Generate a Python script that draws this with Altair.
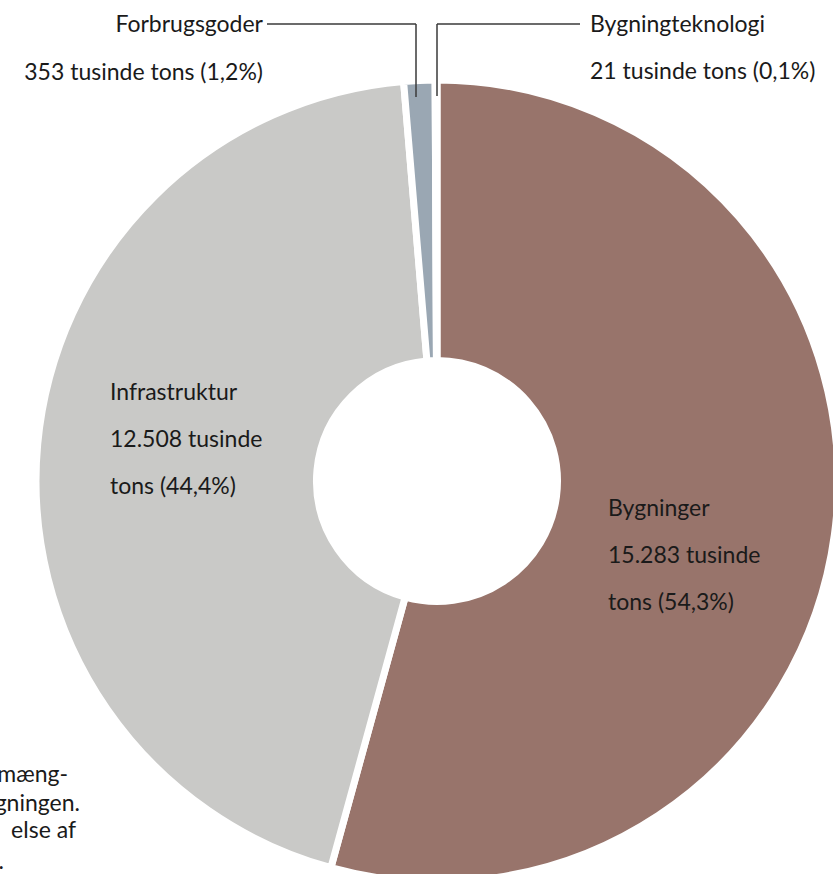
import altair as alt
import pandas as pd

# Data
categories = ["Bygninger", "Infrastruktur", "Forbrugsgoder", "Bygningteknologi"]
values_kt = [15283, 12508, 353, 21]          # tusinde tons
percents = [54.3, 44.4, 1.2, 0.1]
colors = ["#98746b", "#c9c9c7", "#9aa7b3", "#9aa7b3"]
footnote_fragments = ["mæng-", "gningen.", "else af", "."]


def dk_int(v):
    return f"{v:,}".replace(",", ".")


def dk_pct(p):
    return f"{p:.1f}".replace(".", ",") + "%"


df = pd.DataFrame({
    "kategori": categories,
    "vaerdi": values_kt,
    "idx": list(range(len(categories))),
})

W, H = 833, 874
CX, CY = 437, 481
FONT = "Lato"
FS = 23
TXT = "#1a1a1a"

donut = alt.Chart(df).mark_arc(
    outerRadius=401, innerRadius=120.5, stroke="white", strokeWidth=7
).encode(
    theta=alt.Theta("vaerdi:Q", stack=True),
    color=alt.Color("kategori:N", scale=alt.Scale(domain=categories, range=colors), legend=None),
    order=alt.Order("idx:Q"),
    x=alt.value(CX),
    y=alt.value(CY),
)

one = pd.DataFrame({"a": [0]})


def text_layer(txt, x, y, align="left", line_height=47):
    return alt.Chart(one).mark_text(
        font=FONT, fontSize=FS, color=TXT, align=align, baseline="alphabetic",
        lineBreak="\n", lineHeight=line_height,
    ).encode(x=alt.value(x), y=alt.value(y), text=alt.value(txt))


def rule(x, x2, y, y2):
    return alt.Chart(one).mark_rule(color="#3a3a3a", strokeWidth=1.5).encode(
        x=alt.value(x), x2=alt.value(x2), y=alt.value(y), y2=alt.value(y2)
    )


lab_byg = f"{categories[0]}\n{dk_int(values_kt[0])} tusinde\ntons ({dk_pct(percents[0])})"
lab_inf = f"{categories[1]}\n{dk_int(values_kt[1])} tusinde\ntons ({dk_pct(percents[1])})"
lab_for1 = categories[2]
lab_for2 = f"{dk_int(values_kt[2])} tusinde tons ({dk_pct(percents[2])})"
lab_bt = f"{categories[3]}\n{dk_int(values_kt[3])} tusinde tons ({dk_pct(percents[3])})"

layers = [
    donut,
    text_layer(lab_byg, 608, 516),
    text_layer(lab_inf, 110, 400),
    text_layer(lab_for1, 263, 32, align="right"),
    text_layer(lab_for2, 263, 80, align="right"),
    text_layer(lab_bt, 590, 32),
    rule(267, 416, 24, 24),
    rule(416, 416, 24, 97),
    rule(437, 580, 24, 24),
    rule(437, 437, 24, 96),
]

frag_ends = [68, 80, 76, 4]
frag_base = [782, 811, 838, 869]
for t, xe, yb in zip(footnote_fragments, frag_ends, frag_base):
    layers.append(text_layer(t, xe, yb, align="right"))

chart = alt.layer(*layers).properties(
    width=W, height=H, padding=0, autosize=alt.AutoSizeParams(type="none"),
    background="white",
).configure_view(stroke=None)

chart.save("out.html", embed_options={"renderer": "svg", "actions": False})
